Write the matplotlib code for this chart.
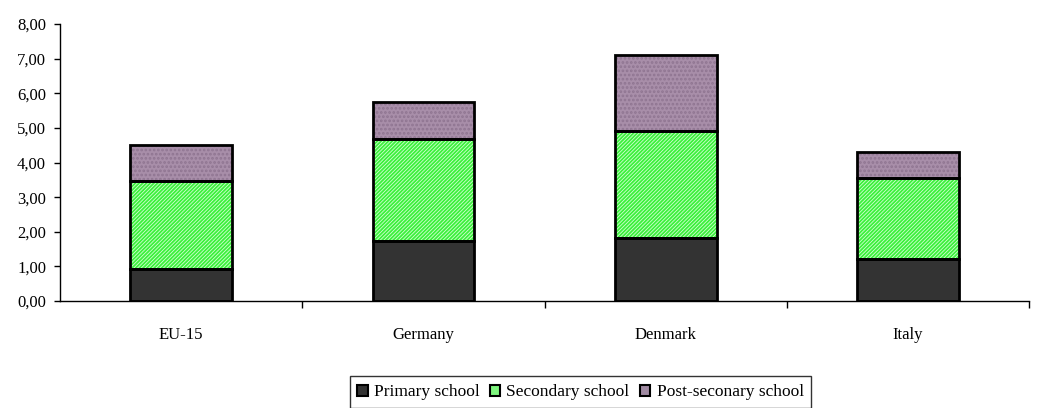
import matplotlib
matplotlib.use("Agg")
import matplotlib.pyplot as plt
from matplotlib.patches import Patch
import numpy as np

countries = ["EU-15", "Germany", "Denmark", "Italy"]
primary = [0.93, 1.75, 1.83, 1.23]
secondary = [2.54, 2.92, 3.08, 2.32]
post_secondary = [1.03, 1.07, 2.19, 0.76]
series_names = ["Primary school", "Secondary school", "Post-seconary school"]
y_ticks = [0, 1, 2, 3, 4, 5, 6, 7, 8]

plt.rcParams["font.family"] = ["Liberation Serif", "DejaVu Serif"]
plt.rcParams["hatch.linewidth"] = 1.3

fig = plt.figure(figsize=(10.4, 4.08), dpi=100)
ax = fig.add_axes([0.0577, 0.262, 0.932, 0.679])

x = np.arange(len(countries))
width = 0.42

styles = [
    dict(face="#333333", hatch=None, hcolor="#333333", legend="#333333"),
    dict(face="#d6ffd6", hatch="/////////", hcolor="#3cf03c", legend="#7ef57e"),
    dict(face="#a88ea9", hatch="....", hcolor="#8f7591", legend="#a08aa2"),
]

bottom = np.zeros(len(countries))
for vals, st in zip([primary, secondary, post_secondary], styles):
    vals = np.array(vals)
    ax.bar(x, vals, width, bottom=bottom, color=st["face"], hatch=st["hatch"],
           edgecolor=st["hcolor"], linewidth=0, zorder=2)
    ax.bar(x, vals, width, bottom=bottom, fill=False, edgecolor="black",
           linewidth=2.0, zorder=3)
    bottom += vals

ax.set_xlim(-0.5, 3.5)
ax.set_ylim(0, 8)
ax.set_yticks(y_ticks)
ax.set_yticklabels([f"{v:.2f}".replace(".", ",") for v in y_ticks], fontsize=12)

ax.set_xticks(x + 0.5)
ax.set_xticklabels([])
ax.set_xticks(x, minor=True)
ax.set_xticklabels(countries, minor=True, fontsize=12)
ax.tick_params(axis="x", which="major", direction="out", length=5, width=1)
ax.tick_params(axis="x", which="minor", length=0, pad=19)
ax.tick_params(axis="y", direction="out", length=4, width=1, pad=6)

for side in ["top", "right"]:
    ax.spines[side].set_visible(False)
for side in ["left", "bottom"]:
    ax.spines[side].set_linewidth(1.0)

handles = [
    Patch(facecolor=st["legend"], edgecolor="black", linewidth=1.5)
    for st in styles
]
leg = fig.legend(handles, series_names, loc="lower center",
                 bbox_to_anchor=(580.5 / 1040, 0.0),
                 ncol=3, fontsize=12.5, frameon=True, fancybox=False,
                 edgecolor="black", handlelength=0.6, handleheight=0.6,
                 handletextpad=0.35, columnspacing=0.6, borderpad=0.45,
                 borderaxespad=0)
leg.get_frame().set_linewidth(1.0)

fig.savefig("out.png", dpi=100)
